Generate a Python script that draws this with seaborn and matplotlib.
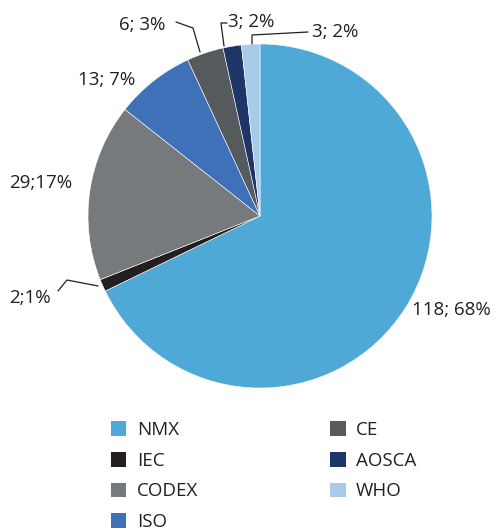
import matplotlib
matplotlib.use("Agg")
import matplotlib.pyplot as plt
import seaborn as sns
from matplotlib.patches import Patch

categories = ["NMX", "IEC", "CODEX", "ISO", "CE", "AOSCA", "WHO"]
counts = [118, 2, 29, 13, 6, 3, 3]
percents = [68, 1, 17, 7, 3, 2, 2]
label_texts = ["118; 68%", "2;1%", "29;17%", "13; 7%", "6; 3%", "3; 2%", "3; 2%"]
colors = ["#4FA9D6", "#231F20", "#777A7D", "#3E71B8", "#555A5C", "#1D3567", "#A9CBEA"]

sns.set_theme(style="white")
plt.rcParams["font.family"] = ["Open Sans", "DejaVu Sans"]

W, H = 502, 530
fig = plt.figure(figsize=(W / 100, H / 100), dpi=100)
ax = fig.add_axes([0, 0, 1, 1])

cx, cy, r = 260, 216, 172
wedges, _ = ax.pie(counts, colors=colors, startangle=-90, counterclock=True,
                   center=(cx, cy), radius=r,
                   wedgeprops=dict(edgecolor="white", linewidth=0.4))
ax.set_xlim(0, W)
ax.set_ylim(H, 0)
ax.set_aspect("equal")
ax.axis("off")

fs = 13.5
tc = "#231F20"
pos = [(412, 310), (9, 298), (9, 183), (78, 80), (119, 25), (228, 22), (312, 32)]
for (x, y), t in zip(pos, label_texts):
    ax.text(x, y, t, fontsize=fs, color=tc, ha="left", va="center")

lw = 0.9
ax.plot([58, 67, 98], [291, 280, 286], color=tc, lw=lw)
ax.plot([176, 193, 200], [22, 28, 52], color=tc, lw=lw)
ax.plot([227, 221, 224], [23, 23, 46], color=tc, lw=lw)
ax.plot([308, 252, 252], [32, 35, 44], color=tc, lw=lw)

handles = [Patch(facecolor=c, edgecolor="none", label=l) for c, l in zip(colors, categories)]
leg = fig.legend(handles=handles, ncol=2, loc="upper left",
                 bbox_to_anchor=(111 / W, 1 - 421 / H), frameon=False,
                 fontsize=13.5, handlelength=0.82, handleheight=0.82,
                 handletextpad=0.55, labelspacing=0.68, columnspacing=7.05,
                 borderaxespad=0, borderpad=0)
for t in leg.get_texts():
    t.set_color(tc)

fig.savefig("out.png", dpi=100)
